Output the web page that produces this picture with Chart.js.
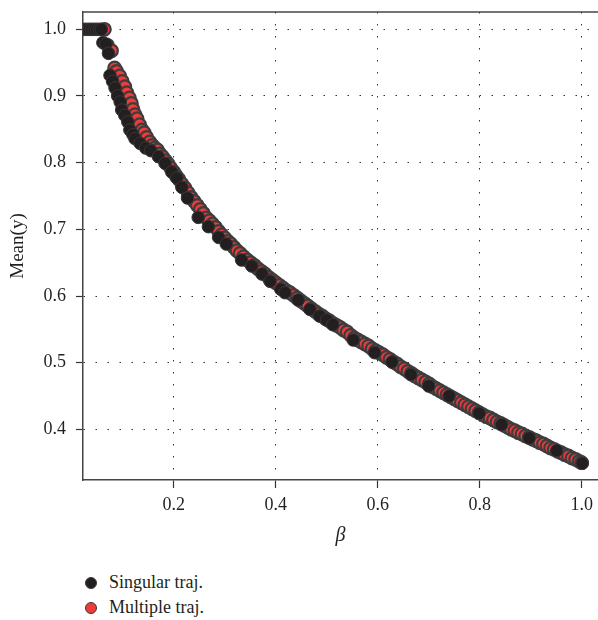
<!DOCTYPE html>
<html>
<head>
<meta charset="utf-8">
<script src="https://cdn.jsdelivr.net/npm/chart.js@4"></script>
<style>
  body { margin: 0; background: #fff; }
  #wrap { position: relative; width: 598px; height: 560px; }
  #legend { position: absolute; left: 85px; top: 570px; font-family: "Liberation Serif", serif; font-size: 18px; color: #231f20; }
  .item { height: 25px; display: flex; align-items: center; }
  .dot { width: 12px; height: 12px; border-radius: 50%; margin-right: 12px; box-sizing: border-box; border: 1px solid #3a3a3a; }
</style>
</head>
<body>
<div id="wrap"><canvas id="chart" width="598" height="560"></canvas></div>
<div id="legend"></div>
<script>
const seriesNames = ['Singular traj.', 'Multiple traj.'];
const seriesColors = ['#231f20', '#ee3b3b'];
const xTicks = [0.2, 0.4, 0.6, 0.8, 1.0];
const yTicks = [0.4, 0.5, 0.6, 0.7, 0.8, 0.9, 1.0];

const singularX = [0.024, 0.029, 0.034, 0.039, 0.044, 0.049, 0.054, 0.058, 0.061, 0.067, 0.072,
  0.075, 0.080, 0.085, 0.090, 0.095, 0.098, 0.104, 0.110, 0.114, 0.120, 0.124, 0.134, 0.145,
  0.155, 0.170, 0.183, 0.196, 0.206, 0.216, 0.227, 0.248, 0.268, 0.288, 0.303, 0.333, 0.353,
  0.373, 0.389, 0.410, 0.418, 0.444, 0.467, 0.486, 0.500, 0.512, 0.552, 0.594, 0.628, 0.665,
  0.700, 0.740, 0.799, 0.843, 0.897, 0.951, 1.001];
const singularY = [1.000, 1.000, 1.000, 1.000, 1.000, 1.000, 1.000, 1.000, 0.980, 0.978, 0.964,
  0.931, 0.922, 0.912, 0.900, 0.891, 0.879, 0.871, 0.861, 0.849, 0.842, 0.836, 0.829, 0.822,
  0.818, 0.809, 0.799, 0.786, 0.777, 0.763, 0.747, 0.718, 0.704, 0.688, 0.678, 0.654, 0.645,
  0.633, 0.622, 0.610, 0.605, 0.594, 0.580, 0.570, 0.564, 0.557, 0.534, 0.515, 0.501, 0.482,
  0.465, 0.450, 0.424, 0.407, 0.387, 0.368, 0.349];

const multipleX = [0.064, 0.070, 0.078, 0.084, 0.088, 0.094, 0.099, 0.104, 0.108, 0.113, 0.117,
  0.120, 0.124, 0.128, 0.133, 0.138, 0.142, 0.147, 0.153, 0.158, 0.163, 0.168, 0.173, 0.178,
  0.184, 0.189, 0.194, 0.200, 0.205, 0.210, 0.216, 0.222, 0.228, 0.234, 0.240, 0.246, 0.252,
  0.258, 0.264, 0.270, 0.276, 0.282, 0.288, 0.294, 0.300, 0.306, 0.312, 0.318, 0.324, 0.330,
  0.337, 0.344, 0.351, 0.358, 0.365, 0.372, 0.379, 0.386, 0.393, 0.400, 0.407, 0.414, 0.421,
  0.428, 0.435, 0.442, 0.449, 0.456, 0.463, 0.470, 0.477, 0.484, 0.491, 0.498, 0.505, 0.512,
  0.519, 0.526, 0.533, 0.540, 0.547, 0.554, 0.561, 0.568, 0.575, 0.582, 0.589, 0.596, 0.603,
  0.610, 0.617, 0.624, 0.631, 0.638, 0.645, 0.652, 0.659, 0.666, 0.673, 0.680, 0.687, 0.694,
  0.701, 0.708, 0.715, 0.722, 0.729, 0.736, 0.743, 0.750, 0.757, 0.764, 0.771, 0.778, 0.785,
  0.792, 0.799, 0.806, 0.813, 0.820, 0.827, 0.834, 0.841, 0.848, 0.855, 0.862, 0.869, 0.876,
  0.883, 0.890, 0.897, 0.904, 0.911, 0.918, 0.925, 0.932, 0.939, 0.946, 0.953, 0.960, 0.967,
  0.974, 0.981, 0.988, 0.995, 1.000];
const multipleY = [1.000, 0.976, 0.968, 0.942, 0.937, 0.930, 0.922, 0.914, 0.905, 0.897, 0.889,
  0.880, 0.872, 0.866, 0.857, 0.849, 0.845, 0.838, 0.831, 0.826, 0.822, 0.819, 0.813, 0.809,
  0.803, 0.798, 0.792, 0.786, 0.780, 0.775, 0.768, 0.762, 0.755, 0.748, 0.742, 0.736, 0.730,
  0.724, 0.717, 0.713, 0.708, 0.703, 0.697, 0.692, 0.687, 0.682, 0.678, 0.673, 0.668, 0.664,
  0.659, 0.654, 0.650, 0.646, 0.641, 0.637, 0.633, 0.628, 0.624, 0.620, 0.616, 0.612, 0.608,
  0.605, 0.601, 0.597, 0.593, 0.589, 0.585, 0.581, 0.577, 0.573, 0.570, 0.566, 0.563, 0.559,
  0.556, 0.553, 0.549, 0.546, 0.541, 0.537, 0.534, 0.531, 0.528, 0.525, 0.521, 0.518, 0.515,
  0.512, 0.508, 0.505, 0.501, 0.498, 0.494, 0.491, 0.487, 0.484, 0.480, 0.477, 0.474, 0.471,
  0.468, 0.464, 0.461, 0.458, 0.455, 0.452, 0.449, 0.446, 0.443, 0.440, 0.437, 0.434, 0.431,
  0.428, 0.425, 0.422, 0.419, 0.417, 0.414, 0.411, 0.409, 0.406, 0.403, 0.400, 0.398, 0.395,
  0.393, 0.390, 0.388, 0.385, 0.383, 0.380, 0.378, 0.375, 0.372, 0.370, 0.367, 0.365, 0.362,
  0.360, 0.357, 0.355, 0.352, 0.350];

function toPoints(xs, ys) {
  return xs.map((x, i) => ({ x: x, y: ys[i] }));
}

const textColor = '#231f20';
const serif = '"Liberation Serif", serif';

// top frame line, the reference has no right border
const frameTop = {
  id: 'frameTop',
  afterDatasetsDraw(chart) {
    const a = chart.chartArea;
    const ctx = chart.ctx;
    ctx.save();
    ctx.strokeStyle = '#444';
    ctx.lineWidth = 1.5;
    ctx.beginPath();
    ctx.moveTo(a.left, a.top);
    ctx.lineTo(a.right, a.top);
    ctx.stroke();
    ctx.restore();
  }
};

const chart = new Chart(document.getElementById('chart').getContext('2d'), {
  type: 'scatter',
  data: {
    datasets: [{
      label: seriesNames[0],
      data: toPoints(singularX, singularY),
      backgroundColor: seriesColors[0],
      borderColor: '#3a3536',
      borderWidth: 1,
      pointRadius: 6.3
    }, {
      label: seriesNames[1],
      data: toPoints(multipleX, multipleY),
      backgroundColor: seriesColors[1],
      borderColor: '#3d3d3d',
      borderWidth: 2.2,
      pointRadius: 6.3
    }]
  },
  options: {
    responsive: false,
    animation: false,
    events: [],
    layout: { padding: 0, autoPadding: false },
    plugins: { legend: { display: false }, tooltip: { enabled: false } },
    scales: {
      x: {
        type: 'linear',
        min: 0.022,
        max: 1.032,
        afterBuildTicks: axis => { axis.ticks = xTicks.map(v => ({ value: v })); },
        afterFit: axis => { axis.height = 80; axis.paddingLeft = 0; axis.paddingRight = 0; },
        ticks: {
          callback: v => v.toFixed(1),
          font: { family: serif, size: 18 },
          color: textColor,
          padding: 6,
          maxRotation: 0
        },
        grid: { color: '#333', lineWidth: 1, tickColor: '#333', tickLength: 8, tickWidth: 1.2 },
        border: { color: '#444', width: 1.5, dash: [1.5, 10.5] },
        title: {
          display: true,
          text: 'β',
          font: { family: serif, size: 20, style: 'italic' },
          color: textColor,
          padding: { top: 0, bottom: 12 }
        }
      },
      y: {
        type: 'linear',
        min: 0.324,
        max: 1.026,
        afterBuildTicks: axis => { axis.ticks = yTicks.map(v => ({ value: v })); },
        afterFit: axis => { axis.width = 83; axis.paddingTop = 12; axis.paddingBottom = 0; },
        ticks: {
          callback: v => v.toFixed(1),
          font: { family: serif, size: 18 },
          color: textColor,
          padding: 10
        },
        grid: { color: '#333', lineWidth: 1, tickColor: '#333', tickLength: 7, tickWidth: 1.2 },
        border: { color: '#444', width: 1.5, dash: [1.5, 10.5] },
        title: {
          display: true,
          text: 'Mean(y)',
          font: { family: serif, size: 19 },
          color: textColor,
          padding: { top: 7, bottom: 0 }
        }
      }
    }
  },
  plugins: [frameTop]
});

// vertical legend under the plot, like the reference
const legend = document.getElementById('legend');
chart.data.datasets.forEach(ds => {
  const item = document.createElement('div');
  item.className = 'item';
  const dot = document.createElement('span');
  dot.className = 'dot';
  dot.style.background = ds.backgroundColor;
  item.appendChild(dot);
  item.appendChild(document.createTextNode(ds.label));
  legend.appendChild(item);
});
</script>
</body>
</html>
